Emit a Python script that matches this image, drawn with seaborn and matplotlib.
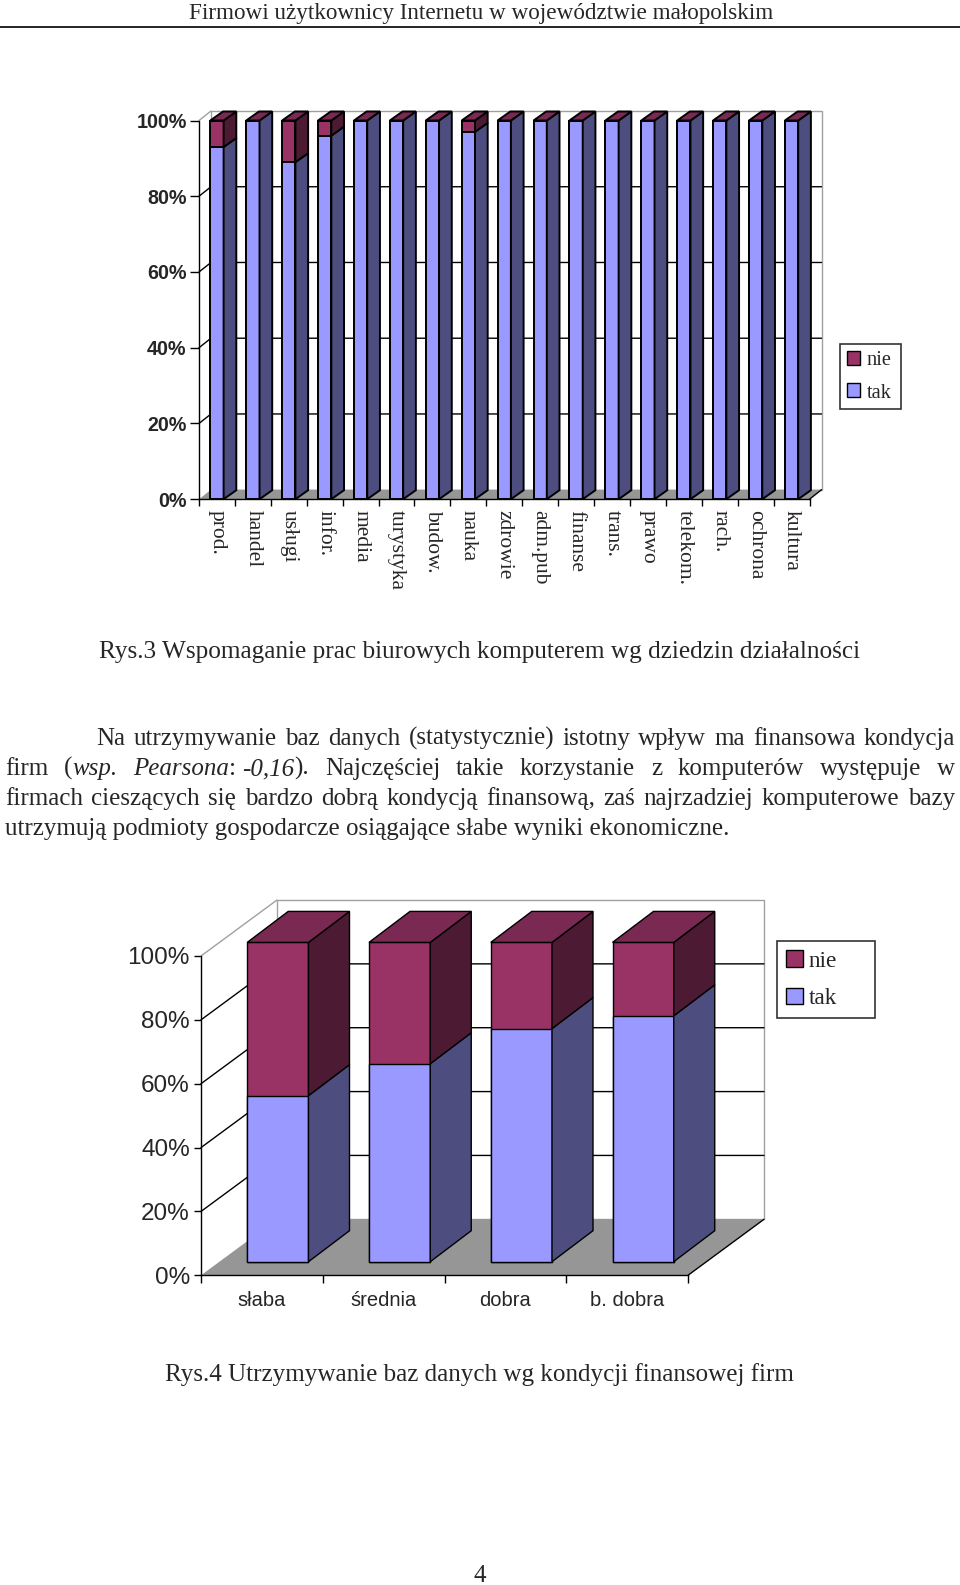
import numpy as np
import pandas as pd
import matplotlib
matplotlib.use("Agg")
import matplotlib.pyplot as plt
import seaborn as sns
from matplotlib.patches import Polygon, Patch
from matplotlib.lines import Line2D

# ---------------- data ----------------
branze = ["prod.", "handel", "usługi", "infor.", "media", "turystyka", "budow.",
          "nauka", "zdrowie", "adm.pub", "finanse", "trans.", "prawo",
          "telekom.", "rach.", "ochrona", "kultura"]
branze_tak = [93, 100, 89, 96, 100, 100, 100, 97, 100, 100, 100, 100, 100, 100, 100, 100, 100]
branze_nie = [7, 0, 11, 4, 0, 0, 0, 3, 0, 0, 0, 0, 0, 0, 0, 0, 0]

kondycja = ["słaba", "średnia", "dobra", "b. dobra"]
kondycja_tak = [52, 62, 73, 77]
kondycja_nie = [48, 38, 27, 23]

procent_ticks = [0, 20, 40, 60, 80, 100]
procent_labels = ["0%", "20%", "40%", "60%", "80%", "100%"]
serie = ["nie", "tak"]

naglowek = "Firmowi użytkownicy Internetu w województwie małopolskim"
podpis3 = "Rys.3 Wspomaganie prac biurowych komputerem wg dziedzin działalności"
podpis4 = "Rys.4 Utrzymywanie baz danych wg kondycji finansowej firm"
numer_strony = "4"

N, I, SP = "normal", "italic", "space"
akapit_justowany = [
    [[("Na", N)], [("utrzymywanie", N)], [("baz", N)], [("danych", N)],
     [("(statystycznie)", N)], [("istotny", N)], [("wpływ", N)], [("ma", N)],
     [("finansowa", N)], [("kondycja", N)]],
    [[("firm", N)], [("(", N), ("wsp.", I)],
     [("Pearsona", I), (":", N), (" ", SP), ("-0,16", I), (").", N)],
     [("Najczęściej", N)], [("takie", N)], [("korzystanie", N)], [("z", N)],
     [("komputerów", N)], [("występuje", N)], [("w", N)]],
    [[("firmach", N)], [("cieszących", N)], [("się", N)], [("bardzo", N)],
     [("dobrą", N)], [("kondycją", N)], [("finansową,", N)], [("zaś", N)],
     [("najrzadziej", N)], [("komputerowe", N)], [("bazy", N)]],
]
akapit_ostatni = "utrzymują podmioty gospodarcze osiągające słabe wyniki ekonomiczne."

# ---------------- style ----------------
TAK_FRONT, TAK_SIDE = "#9999FF", "#4D4D80"
NIE_FRONT, NIE_SIDE, NIE_TOP = "#993366", "#4D1A33", "#7A2952"
FLOOR, WALL_EDGE = "#969696", "#A0A0A0"
SERIF, SANS = "Liberation Serif", "Liberation Sans"

W, H = 960, 1585
sns.set_style("white")
plt.rcParams["font.family"] = [SERIF, "DejaVu Serif"]

fig = plt.figure(figsize=(W / 100, H / 100), dpi=100)
fig.patch.set_facecolor("white")
renderer = fig.canvas.get_renderer()


def rect(x0, ytop, x1, ybot):
    return [x0 / W, 1 - ybot / H, (x1 - x0) / W, (ybot - ytop) / H]


def chart3d(ax, cats, tak, nie, wall_px, off_px, depth_px, width, lw):
    n = len(cats)
    df = pd.DataFrame({"kat": cats, "tak": tak, "nie": nie})
    df["razem"] = df["tak"] + df["nie"]
    sns.barplot(data=df, x="kat", y="razem", order=cats, color=NIE_FRONT,
                saturation=1, width=width, errorbar=None, edgecolor="black",
                linewidth=lw, ax=ax)
    sns.barplot(data=df, x="kat", y="tak", order=cats, color=TAK_FRONT,
                saturation=1, width=width, errorbar=None, edgecolor="black",
                linewidth=lw, ax=ax)
    bars = list(ax.patches)
    tot_bars, tak_bars = bars[:n], bars[n:2 * n]
    ax.set_xlim(-0.5, n - 0.5)
    ax.set_ylim(0, 100)
    ax.set_xlabel("")
    ax.set_ylabel("")
    ax.patch.set_alpha(0)
    bb = ax.get_position()
    sx = n / (bb.width * W)
    sy = 100 / (bb.height * H)
    wx, wy = wall_px[0] * sx, wall_px[1] * sy
    ox, oy = off_px[0] * sx, off_px[1] * sy
    dx, dy = depth_px[0] * sx, depth_px[1] * sy
    x0, x1 = -0.5, n - 0.5

    # walls and floor
    ax.add_patch(Polygon([(x0 + wx, wy), (x1 + wx, wy), (x1 + wx, 100 + wy), (x0 + wx, 100 + wy)],
                         closed=True, fc="white", ec=WALL_EDGE, lw=1, clip_on=False, zorder=0.5))
    ax.add_patch(Polygon([(x0, 0), (x1, 0), (x1 + wx, wy), (x0 + wx, wy)],
                         closed=True, fc=FLOOR, ec="none", clip_on=False, zorder=0.6))
    ax.plot([x1, x1 + wx], [0, wy], color="black", lw=1, clip_on=False, zorder=0.7)
    for v in procent_ticks[1:-1]:
        ax.plot([x0, x0 + wx, x1 + wx], [v, v + wy, v + wy], color="black", lw=1,
                clip_on=False, zorder=0.7)
    ax.plot([x0, x0 + wx], [100, 100 + wy], color=WALL_EDGE, lw=1, clip_on=False, zorder=0.7)

    # 3D bars
    for i in range(n):
        pt, pk = tot_bars[i], tak_bars[i]
        for p, z in ((pt, 3), (pk, 3.1)):
            p.set_x(p.get_x() + ox)
            p.set_y(p.get_y() + oy)
            p.set_clip_on(False)
            p.set_zorder(z)
        xl = pk.get_x()
        xr = xl + pk.get_width()
        yb = pk.get_y()
        ym = yb + pk.get_height()
        yt = pt.get_y() + pt.get_height()
        kw = dict(closed=True, ec="black", lw=lw, clip_on=False, zorder=3.2)
        ax.add_patch(Polygon([(xr, yb), (xr + dx, yb + dy), (xr + dx, ym + dy), (xr, ym)],
                             fc=TAK_SIDE, **kw))
        if yt > ym:
            ax.add_patch(Polygon([(xr, ym), (xr + dx, ym + dy), (xr + dx, yt + dy), (xr, yt)],
                                 fc=NIE_SIDE, **kw))
        ax.add_patch(Polygon([(xl, yt), (xr, yt), (xr + dx, yt + dy), (xl + dx, yt + dy)],
                             fc=NIE_TOP, **kw))

    for s in ("top", "right"):
        ax.spines[s].set_visible(False)
    for s in ("left", "bottom"):
        ax.spines[s].set_color("black")
        ax.spines[s].set_linewidth(1)
    ax.set_xticks(np.arange(n + 1) - 0.5, [""] * (n + 1))
    ax.tick_params(bottom=True, left=True)
    return n


# ---------------- top chart ----------------
ax1 = fig.add_axes(rect(199, 120.5, 809.5, 499.2))
n1 = chart3d(ax1, branze, branze_tak, branze_nie, wall_px=(12, 9.5), off_px=(0, 0),
             depth_px=(12.7, 9), width=0.37, lw=1.4)
ax1.set_xticks(np.arange(n1), branze, minor=True, rotation=270, fontsize=15.5, family=SERIF)
ax1.set_yticks(procent_ticks, procent_labels, fontsize=14.2, family=SANS, fontweight="bold")
ax1.tick_params(axis="x", which="major", length=5, width=1, direction="out", color="black")
ax1.tick_params(axis="x", which="minor", length=0, pad=7.5)
ax1.tick_params(axis="y", length=6.5, width=1, direction="out", color="black", pad=2.4)

leg1 = fig.legend(handles=[Patch(fc=NIE_FRONT, ec="black", lw=1), Patch(fc=TAK_FRONT, ec="black", lw=1)],
                  labels=serie, loc="upper left",
                  bbox_to_anchor=(840 / W, 1 - 346 / H, 61 / W, 0.001), mode="expand",
                  borderaxespad=0, frameon=True, fancybox=False, edgecolor="black",
                  prop={"family": SERIF, "size": 14.7}, handlelength=0.68, handleheight=0.68,
                  handletextpad=0.3, borderpad=0.32, labelspacing=0.65)
leg1.get_frame().set_linewidth(1.2)

# ---------------- bottom chart ----------------
ax2 = fig.add_axes(rect(201, 956, 688, 1275.3))
n2 = chart3d(ax2, kondycja, kondycja_tak, kondycja_nie, wall_px=(76, 56), off_px=(16, 13.6),
             depth_px=(41, 31), width=0.503, lw=1.0)
ax2.set_xticks(np.arange(n2), kondycja, minor=True, fontsize=14.5, family=SANS)
ax2.set_yticks(procent_ticks, procent_labels, fontsize=17.5, family=SANS)
ax2.tick_params(axis="x", which="major", length=6, width=1, direction="out", color="black")
ax2.tick_params(axis="x", which="minor", length=0, pad=11.5)
ax2.tick_params(axis="y", length=5, width=1, direction="out", color="black", pad=3)

leg2 = fig.legend(handles=[Patch(fc=NIE_FRONT, ec="black", lw=1), Patch(fc=TAK_FRONT, ec="black", lw=1)],
                  labels=serie, loc="upper left",
                  bbox_to_anchor=(777.3 / W, 1 - 943 / H, 97.7 / W, 0.001), mode="expand",
                  borderaxespad=0, frameon=True, fancybox=False, edgecolor="black",
                  prop={"family": SERIF, "size": 16.7}, handlelength=0.72, handleheight=0.72,
                  handletextpad=0.26, borderpad=0.38, labelspacing=0.69)
leg2.get_frame().set_linewidth(1.2)


# ---------------- page text ----------------
def width_of(s, **kw):
    t = fig.text(0, 0, s, **kw)
    w = t.get_window_extent(renderer=renderer).width
    t.remove()
    return w


def fit_size(s, target, **kw):
    return 20 * target / width_of(s, fontsize=20, **kw)


def put(x, y, s, **kw):
    return fig.text(x / W, 1 - y / H, s, va="baseline", **kw)


size_head = fit_size(naglowek, 584, family=SERIF)
put(481, 19, naglowek, ha="center", fontsize=size_head, family=SERIF)
fig.add_artist(Line2D([0, 1], [1 - 26.5 / H] * 2, color="black", lw=1.2, transform=fig.transFigure))

size_cap3 = fit_size(podpis3, 761, family=SERIF)
put(480, 658, podpis3, ha="center", fontsize=size_cap3, family=SERIF)
size_cap4 = fit_size(podpis4, 629, family=SERIF)
put(479.5, 1381, podpis4, ha="center", fontsize=size_cap4, family=SERIF)

size_par = fit_size(akapit_ostatni, 726, family=SERIF)
space_w = (width_of("a a", fontsize=size_par, family=SERIF)
           - width_of("aa", fontsize=size_par, family=SERIF))


def run_width(t, st):
    if st == SP:
        return space_w
    return width_of(t, fontsize=size_par, family=SERIF, style=st)


def draw_justified(tokens, x_left, x_right, y):
    widths = [sum(run_width(t, st) for t, st in tok) for tok in tokens]
    gap = (x_right - x_left - sum(widths)) / (len(tokens) - 1)
    x = x_left
    for tok, w in zip(tokens, widths):
        xx = x
        for t, st in tok:
            if st != SP:
                put(xx, y, t, ha="left", fontsize=size_par, family=SERIF, style=st)
            xx += run_width(t, st)
        x += w + gap


baselines = [745, 775, 805, 835]
starts = [96.7, 5, 5]
for tokens, x_start, yb in zip(akapit_justowany, starts, baselines):
    draw_justified(tokens, x_start, 955, yb)
put(5, baselines[3], akapit_ostatni, ha="left", fontsize=size_par, family=SERIF)

put(480, 1582, numer_strony, ha="center", fontsize=size_par, family=SERIF)

fig.savefig("out.png", dpi=100, facecolor="white")
